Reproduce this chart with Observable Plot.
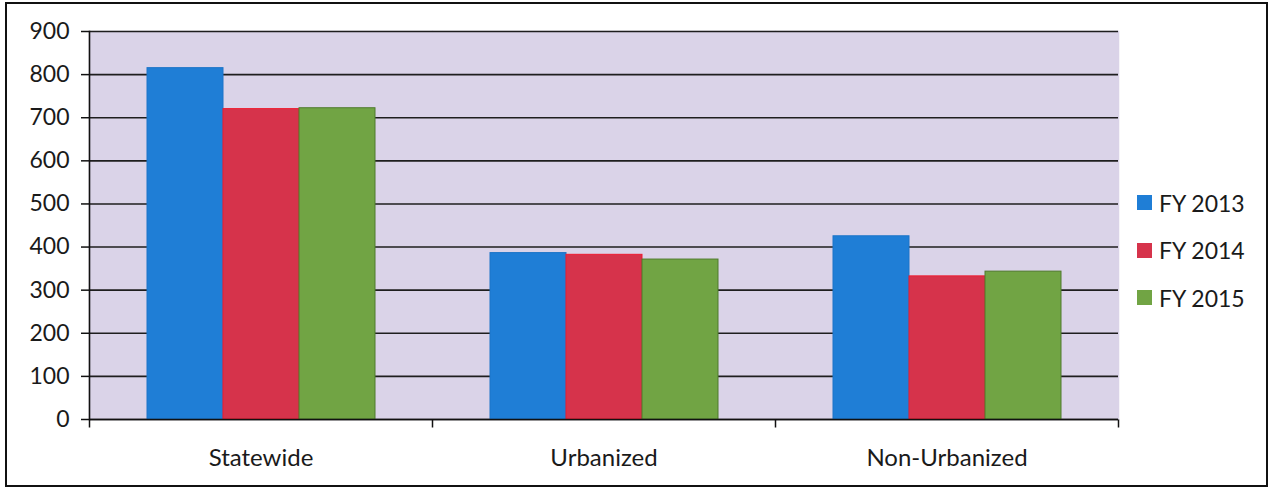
<!DOCTYPE html>
<html>
<head>
<meta charset="utf-8">
<script src="https://cdn.jsdelivr.net/npm/d3@7"></script>
<script src="https://cdn.jsdelivr.net/npm/@observablehq/plot@0.6"></script>
<style>
  html, body { margin: 0; padding: 0; background: #fff; }
  #wrap { position: relative; width: 1273px; height: 493px; font-family: Lato, "Open Sans", sans-serif; color: #1a1a1a; }
  #wrap svg { position: absolute; left: 0; top: 0; }
  #border { position: absolute; left: 5px; top: 2px; width: 1259px; height: 481px; border: 2px solid #111; }
  #legend { position: absolute; left: 1137px; top: 179px; font-size: 23px; }
  .item { display: flex; align-items: center; height: 47.5px; }
  .sw { width: 15px; height: 15px; margin-right: 7px; }
</style>
</head>
<body>
<div id="wrap">
  <div id="border"></div>
  <div id="legend"></div>
</div>
<script>
const categories = ["Statewide", "Urbanized", "Non-Urbanized"];
const series = ["FY 2013", "FY 2014", "FY 2015"];
const fy2013 = [815, 386, 425];
const fy2014 = [720, 382, 332];
const fy2015 = [722, 371, 343];
const yTicks = [0, 100, 200, 300, 400, 500, 600, 700, 800, 900];
const colors = ["#1f7ed6", "#d6334b", "#71a444"];
const edges = ["#1c74c8", "#ee1c30", "#4f7a2c"];

const seriesValues = [fy2013, fy2014, fy2015];
const data = categories.flatMap((c, i) =>
  series.map((s, j) => ({cat: c, series: s, value: seriesValues[j][i]}))
);

const tickSymbol = {draw(ctx) { ctx.moveTo(0, 0); ctx.lineTo(0, 8); }};
const bg = "#dad3e8";

const chart = Plot.plot({
  width: 1273,
  height: 493,
  marginLeft: 88,
  marginRight: 155,
  marginTop: 31,
  marginBottom: 74,
  style: {fontFamily: "Lato, 'Open Sans', sans-serif", fontSize: "23px", color: "#1a1a1a", background: "transparent"},
  fx: {domain: categories, padding: 0, label: null},
  x: {domain: series, paddingInner: 0, paddingOuter: 0.74, axis: null},
  y: {domain: [0, 900], label: null},
  color: {domain: series, range: colors},
  marks: [
    Plot.frame({fill: bg, stroke: bg, strokeWidth: 1.5}),
    Plot.gridY(yTicks, {stroke: "#1e1e1e", strokeOpacity: 1, strokeWidth: 1.6}),
    ...series.map((s, j) =>
      Plot.barY(data.filter(d => d.series === s), {fx: "cat", x: "series", y: "value", fill: "series", stroke: edges[j], strokeWidth: 1})
    ),
    Plot.ruleY([0], {stroke: "#111", strokeWidth: 1.6}),
    Plot.frame({anchor: "left", facetAnchor: "left", stroke: "#111", strokeWidth: 1.6}),
    Plot.axisY(yTicks, {tickSize: 8, tickPadding: 12, fontSize: 23, label: null, stroke: "#111", strokeWidth: 1.5}),
    Plot.axisFx({anchor: "bottom", tickSize: 0, tickPadding: 29, fontSize: 24, label: null}),
    Plot.dot([0], {frameAnchor: "bottom-left", symbol: tickSymbol, fill: "none", stroke: "#111", strokeWidth: 1.5}),
    Plot.dot([0], {frameAnchor: "bottom-right", facetAnchor: "right", symbol: tickSymbol, fill: "none", stroke: "#111", strokeWidth: 1.5})
  ]
});
document.getElementById("wrap").prepend(chart);

const legend = document.getElementById("legend");
series.forEach((s, i) => {
  const item = document.createElement("div");
  item.className = "item";
  const sw = document.createElement("div");
  sw.className = "sw";
  sw.style.background = colors[i];
  const t = document.createElement("span");
  t.textContent = s;
  item.append(sw, t);
  legend.append(item);
});
</script>
</body>
</html>
